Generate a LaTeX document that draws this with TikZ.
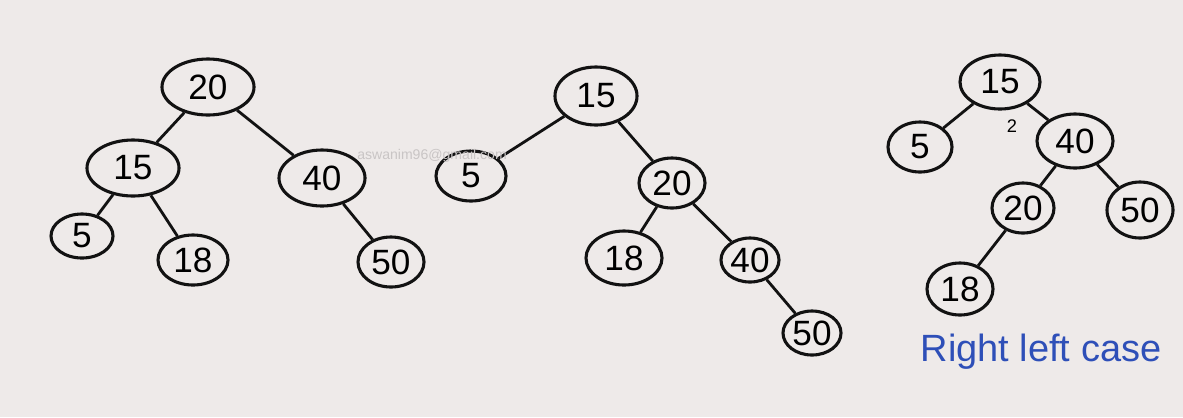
\documentclass[tikz,border=0pt]{standalone}
\usepackage{fontspec}
\setsansfont{Liberation Sans}
\usepackage{tikz}
\usetikzlibrary{shapes.geometric}

\definecolor{board}{HTML}{EEEAE9}
\definecolor{marker}{HTML}{121212}
\definecolor{bluemarker}{HTML}{2E4FB8}
\definecolor{mark}{HTML}{C9C5C5}

\begin{document}
\begin{tikzpicture}[
    x=0.025cm, y=-0.025cm,
    every node/.style={font=\sffamily},
    key/.style={ellipse,draw=marker,line width=2.2pt,inner sep=0pt,
        minimum width=1.75cm,minimum height=1.25cm,font=\sffamily\fontsize{25}{25}\selectfont},
    big/.style={minimum width=2.3cm,minimum height=1.4cm},
    small/.style={minimum width=1.45cm,minimum height=1.1cm},
    edge/.style={draw=marker,line width=2pt}
]
\fill[board] (0,0) rectangle (1183,417);
\useasboundingbox (0,0) rectangle (1183,417);

% first tree
\node[key,big] (a20) at (208,87) {20};
\node[key,big] (a15) at (133,168) {15};
\node[key,big,minimum width=2.15cm] (a40) at (322,178) {40};
\node[key,small,minimum width=1.55cm] (a5) at (82,236) {5};
\node[key] (a18) at (193,260) {18};
\node[key,minimum width=1.65cm] (a50) at (391,262) {50};
\draw[edge] (a20) -- (a15);
\draw[edge] (a20) -- (a40);
\draw[edge] (a15) -- (a5);
\draw[edge] (a15) -- (a18);
\draw[edge] (a40) -- (a50);

% second tree
\node[key,minimum width=2.05cm,minimum height=1.45cm] (b15) at (596,96) {15};
\node[key] (b5) at (471,176) {5};
\node[key,minimum width=1.65cm] (b20) at (672,183) {20};
\node[key,minimum width=1.9cm,minimum height=1.35cm] (b18) at (624,258) {18};
\node[key,small] (b40) at (750,260) {40};
\node[key,small] (b50) at (812,333) {50};
\draw[edge] (b15) -- (b5);
\draw[edge] (b15) -- (b20);
\draw[edge] (b20) -- (b18);
\draw[edge] (b20) -- (b40);
\draw[edge] (b40) -- (b50);

% third tree
\node[key,minimum width=2cm,minimum height=1.35cm] (c15) at (1000,82) {15};
\node[key,minimum width=1.6cm] (c5) at (920,147) {5};
\node[key,minimum width=1.9cm,minimum height=1.35cm] (c40) at (1075,141) {40};
\node[key,minimum width=1.55cm] (c20) at (1023,208) {20};
\node[key,minimum width=1.65cm,minimum height=1.4cm] (c50) at (1140,210) {50};
\node[key,minimum width=1.65cm,minimum height=1.3cm] (c18) at (960,289) {18};
\draw[edge] (c15) -- (c5);
\draw[edge] (c15) -- (c40);
\draw[edge] (c40) -- (c20);
\draw[edge] (c40) -- (c50);
\draw[edge] (c20) -- (c18);
\node[font=\sffamily\fontsize{13}{13}\selectfont] (twolbl) at (1012,126) {2};

% labels
\node[text=bluemarker,font=\sffamily\fontsize{27}{27}\selectfont] (rlcase) at (1041,352) {Right left case};
\node[text=mark,font=\sffamily\fontsize{10}{10}\selectfont] (wmark) at (432,156) {aswanim96@gmail.com};
\end{tikzpicture}
\end{document}
